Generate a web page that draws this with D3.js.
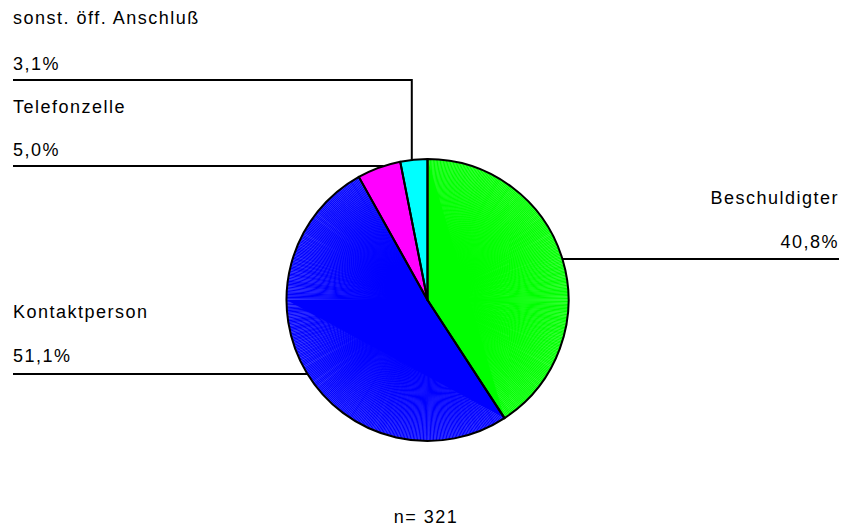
<!DOCTYPE html>
<html>
<head>
<meta charset="utf-8">
<script src="https://cdn.jsdelivr.net/npm/d3@7"></script>
<style>
  html, body { margin: 0; padding: 0; background: #fff; }
  svg text { font-family: "Liberation Sans", Arial, sans-serif; font-size: 18px; letter-spacing: 1.5px; fill: #000; }
</style>
</head>
<body>
<svg id="chart" width="845" height="531"></svg>
<script>
// Anrufe nach Anschlussart (Anteile in %)
const categories = ["Beschuldigter", "Kontaktperson", "Telefonzelle", "sonst. öff. Anschluß"];
const values = [40.8, 51.1, 5.0, 3.1];
const valueLabels = ["40,8%", "51,1%", "5,0%", "3,1%"];
const colors = ["#00ff00", "#0000ff", "#ff00ff", "#00ffff"];
const stripeBase = ["#66ff66", "#6666ff", "#ff00ff", "#00ffff"];
const sampleNote = "n= 321";

const svg = d3.select("#chart");
const cx = 427.5, cy = 300, R = 141;
const g = svg.append("g").attr("transform", `translate(${cx},${cy})`);

const pie = d3.pie().sort(null).value(d => d)(values);
const arc = d3.arc().innerRadius(0).outerRadius(R);

// point on the rim for an angle (0 = top, clockwise)
const rim = (a, r = R) => [Math.sin(a) * r, -Math.cos(a) * r];

pie.forEach((p, i) => {
  const slice = g.append("g");
  // lighter base, then a dense fan of radial lines that merges to the full colour near the centre
  slice.append("path").attr("d", arc(p)).attr("fill", stripeBase[i]);
  const step = 0.6 * Math.PI / 180;
  for (let a = p.startAngle; a <= p.endAngle; a += step) {
    const [x, y] = rim(a, R);
    slice.append("line").attr("x1", 0).attr("y1", 0).attr("x2", x).attr("y2", y)
      .attr("stroke", colors[i]).attr("stroke-width", 1.1);
  }
  // solid fan triangles, split where a slice passes the 9 o'clock point
  const cuts = [p.startAngle];
  if (p.startAngle < 1.5 * Math.PI && p.endAngle > 1.5 * Math.PI) cuts.push(1.5 * Math.PI);
  cuts.push(p.endAngle);
  const a0 = cuts[0], a1 = cuts[1];
  const s = rim(a0), e = rim(a1);
  slice.append("path").attr("d", `M0,0L${s[0]},${s[1]}L${e[0]},${e[1]}Z`).attr("fill", colors[i]);
});

// outlines
g.selectAll("path.outline").data(pie).join("path")
  .attr("class", "outline").attr("d", arc)
  .attr("fill", "none").attr("stroke", "#000").attr("stroke-width", 2).attr("stroke-linejoin", "round");

// label layout: side, label baselines and leader line
const x0 = 13, x1 = 839;
const layout = [
  { side: "right", nameY: 204, valY: 248, lineY: 259 },
  { side: "left", nameY: 318, valY: 362, lineY: 374 },
  { side: "left", nameY: 113, valY: 156, lineY: 166 },
  { side: "left", nameY: 24, valY: 70, lineY: 80, vertical: true }
];

const lines = svg.append("g").attr("stroke", "#000").attr("stroke-width", 2).attr("fill", "none");
pie.forEach((p, i) => {
  const L = layout[i];
  if (L.vertical) {
    const mid = (p.startAngle + p.endAngle) / 2;
    const [mx, my] = rim(mid);
    const vx = cx + mx - 2;
    lines.append("path").attr("d", `M${x0},${L.lineY}H${vx}V${cy + my}`);
  } else {
    const dy = L.lineY - cy;
    const dx = Math.sqrt(R * R - dy * dy);
    if (L.side === "right") {
      lines.append("path").attr("d", `M${cx + dx},${L.lineY}H${x1}`);
    } else {
      lines.append("path").attr("d", `M${x0},${L.lineY}H${cx - dx}`);
    }
  }
  const tx = L.side === "right" ? x1 : x0;
  const anchor = L.side === "right" ? "end" : "start";
  svg.append("text").attr("x", tx).attr("y", L.nameY).attr("text-anchor", anchor).text(categories[i]);
  svg.append("text").attr("x", tx).attr("y", L.valY).attr("text-anchor", anchor).text(valueLabels[i]);
});

svg.append("text").attr("x", 426).attr("y", 523).attr("text-anchor", "middle").text(sampleNote);
</script>
</body>
</html>
